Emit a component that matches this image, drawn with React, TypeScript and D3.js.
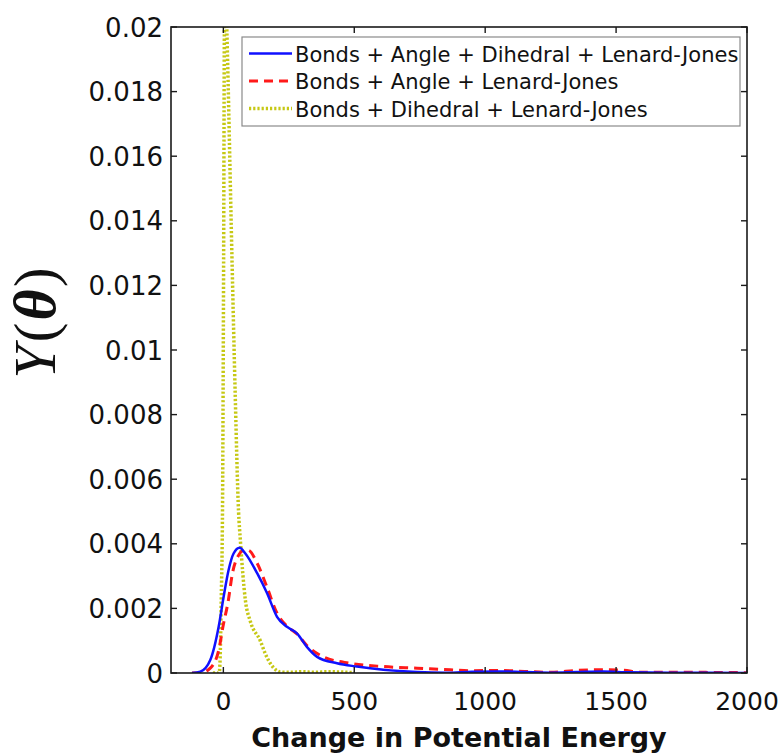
import React from 'react';
import * as d3 from 'd3';

// curve samples (x: change in potential energy, y: density)
const blueX = [-120, -88, -50, -18, 1, 20, 39, 62, 84, 129, 167, 205, 243, 281, 319, 358, 434, 510, 611, 740, 850, 950, 1050, 1150, 1250, 1350, 1450, 1550, 1700, 1850, 2000];
const blueY = [0, 0.00004, 0.0004, 0.00143, 0.00236, 0.00319, 0.0037, 0.00388, 0.0037, 0.00309, 0.00247, 0.00174, 0.00143, 0.00123, 0.00081, 0.0005, 0.0003, 0.0002, 0.0001, 0.00003, 0.00001, 0.00004, 0.00005, 0.00003, 0.00001, 0.00003, 0.00005, 0.00002, 0.00001, 0.00001, 0];

const redX = [-120, -88, -50, -18, 0, 18, 35, 55, 80, 95, 129, 167, 205, 243, 281, 319, 382, 485, 611, 740, 866, 950, 1050, 1150, 1250, 1350, 1450, 1520, 1600, 1800, 2000];
const redY = [0, 0, 0.00015, 0.0007, 0.0015, 0.0022, 0.0031, 0.0036, 0.0038, 0.0038, 0.0034, 0.00265, 0.00185, 0.00145, 0.00121, 0.00085, 0.0005, 0.0003, 0.0002, 0.00015, 0.0001, 0.00007, 0.00008, 0.00005, 0.00002, 0.00008, 0.0001, 0.00009, 0.00002, 0.00002, 0.00001];

const yellowX = [-40, -16, -13, -8, -3, 1, 4, 8, 13, 33, 45, 58, 65, 84, 103, 141, 160, 179, 200, 218, 260, 300, 350, 400, 450, 500];
const yellowY = [0, 0, 0.0003, 0.0023, 0.0054, 0.0128, 0.02, 0.0215, 0.02, 0.0128, 0.0087, 0.005, 0.0041, 0.00226, 0.0016, 0.001, 0.0006, 0.0003, 0.0001, 0.00003, 0.00002, 0.00004, 0.00002, 0.00004, 0.00003, 0.00001];

const seriesNames = [
  'Bonds + Angle + Dihedral + Lenard-Jones',
  'Bonds + Angle + Lenard-Jones',
  'Bonds + Dihedral + Lenard-Jones',
];

const xTicks = [0, 500, 1000, 1500, 2000];
const yTicks = [0, 0.002, 0.004, 0.006, 0.008, 0.01, 0.012, 0.014, 0.016, 0.018, 0.02];
const yTickLabels = ['0', '0.002', '0.004', '0.006', '0.008', '0.01', '0.012', '0.014', '0.016', '0.018', '0.02'];

const width = 783;
const height = 755;
const left = 171;
const right = 747;
const top = 27;
const bottom = 673;

const App = () => {
  const x = d3.scaleLinear().domain([-200, 2000]).range([left, right]);
  const y = d3.scaleLinear().domain([0, 0.02]).range([bottom, top]);

  const line = d3
    .line<[number, number]>()
    .x((d) => x(d[0]))
    .y((d) => y(d[1]))
    .curve(d3.curveMonotoneX);

  const zip = (xs: number[], ys: number[]) => xs.map((v, i) => [v, ys[i]] as [number, number]);

  const series = [
    { pts: zip(blueX, blueY), color: '#1010ff', w: 2.5, dash: undefined },
    { pts: zip(redX, redY), color: '#ff1a1a', w: 3, dash: '9,6' },
    { pts: zip(yellowX, yellowY), color: '#c6c814', w: 3.5, dash: '2.2,2' },
  ];

  const tickLen = 6;
  const axisColor = '#1a1a1a';

  return (
    <svg width={width} height={height} style={{ position: 'absolute', left: 0, top: 0 }}>
      <defs>
        <clipPath id="plot-clip">
          <rect x={left} y={top} width={right - left} height={bottom - top} />
        </clipPath>
      </defs>
      <rect width={width} height={height} fill="#fff" />

      <g clipPath="url(#plot-clip)">
        {series
          .slice()
          .reverse()
          .map((s, i) => (
            <path
              key={i}
              d={line(s.pts) || ''}
              fill="none"
              stroke={s.color}
              strokeWidth={s.w}
              strokeDasharray={s.dash}
            />
          ))}
      </g>

      {/* frame and ticks */}
      <rect x={left} y={top} width={right - left} height={bottom - top} fill="none" stroke={axisColor} strokeWidth={1.6} />
      {xTicks.map((t) => (
        <g key={'x' + t}>
          <line x1={x(t)} x2={x(t)} y1={bottom} y2={bottom - tickLen} stroke={axisColor} strokeWidth={1.4} />
          <line x1={x(t)} x2={x(t)} y1={top} y2={top + tickLen} stroke={axisColor} strokeWidth={1.4} />
          <text x={x(t)} y={710} textAnchor="middle" fontFamily="DejaVu Sans" fontSize={25} fill="#111">
            {t}
          </text>
        </g>
      ))}
      {yTicks.map((t, i) => (
        <g key={'y' + t}>
          <line x1={left} x2={left + tickLen} y1={y(t)} y2={y(t)} stroke={axisColor} strokeWidth={1.4} />
          <line x1={right} x2={right - tickLen} y1={y(t)} y2={y(t)} stroke={axisColor} strokeWidth={1.4} />
          <text x={163} y={y(t) + 9.5} textAnchor="end" fontFamily="DejaVu Sans" fontSize={26} fill="#111">
            {yTickLabels[i]}
          </text>
        </g>
      ))}

      {/* legend */}
      <rect x={242} y={37} width={498} height={89} fill="#fff" stroke="#8a8a8a" strokeWidth={1.2} />
      {series.map((s, i) => (
        <g key={'leg' + i}>
          <line
            x1={249}
            x2={292}
            y1={53.5 + i * 27.5}
            y2={53.5 + i * 27.5}
            stroke={s.color}
            strokeWidth={s.w}
            strokeDasharray={s.dash}
          />
          <text x={295} y={61.5 + i * 27.5} fontFamily="DejaVu Sans" fontSize={21} fill="#111">
            {seriesNames[i]}
          </text>
        </g>
      ))}

      {/* axis titles */}
      <text x={459} y={747} textAnchor="middle" fontFamily="DejaVu Sans" fontWeight="bold" fontSize={27} fill="#111">
        Change in Potential Energy
      </text>
      <text
        transform="translate(55,323) rotate(-90)"
        textAnchor="middle"
        fontFamily="Liberation Serif"
        fontSize={60}
        fill="#111"
      >
        <tspan fontStyle="italic">Y</tspan>
        <tspan dx={3}>(</tspan>
        <tspan dx={2} fontStyle="italic" fontWeight="bold">θ</tspan>
        <tspan dx={2}>)</tspan>
      </text>
    </svg>
  );
};

export default App;
